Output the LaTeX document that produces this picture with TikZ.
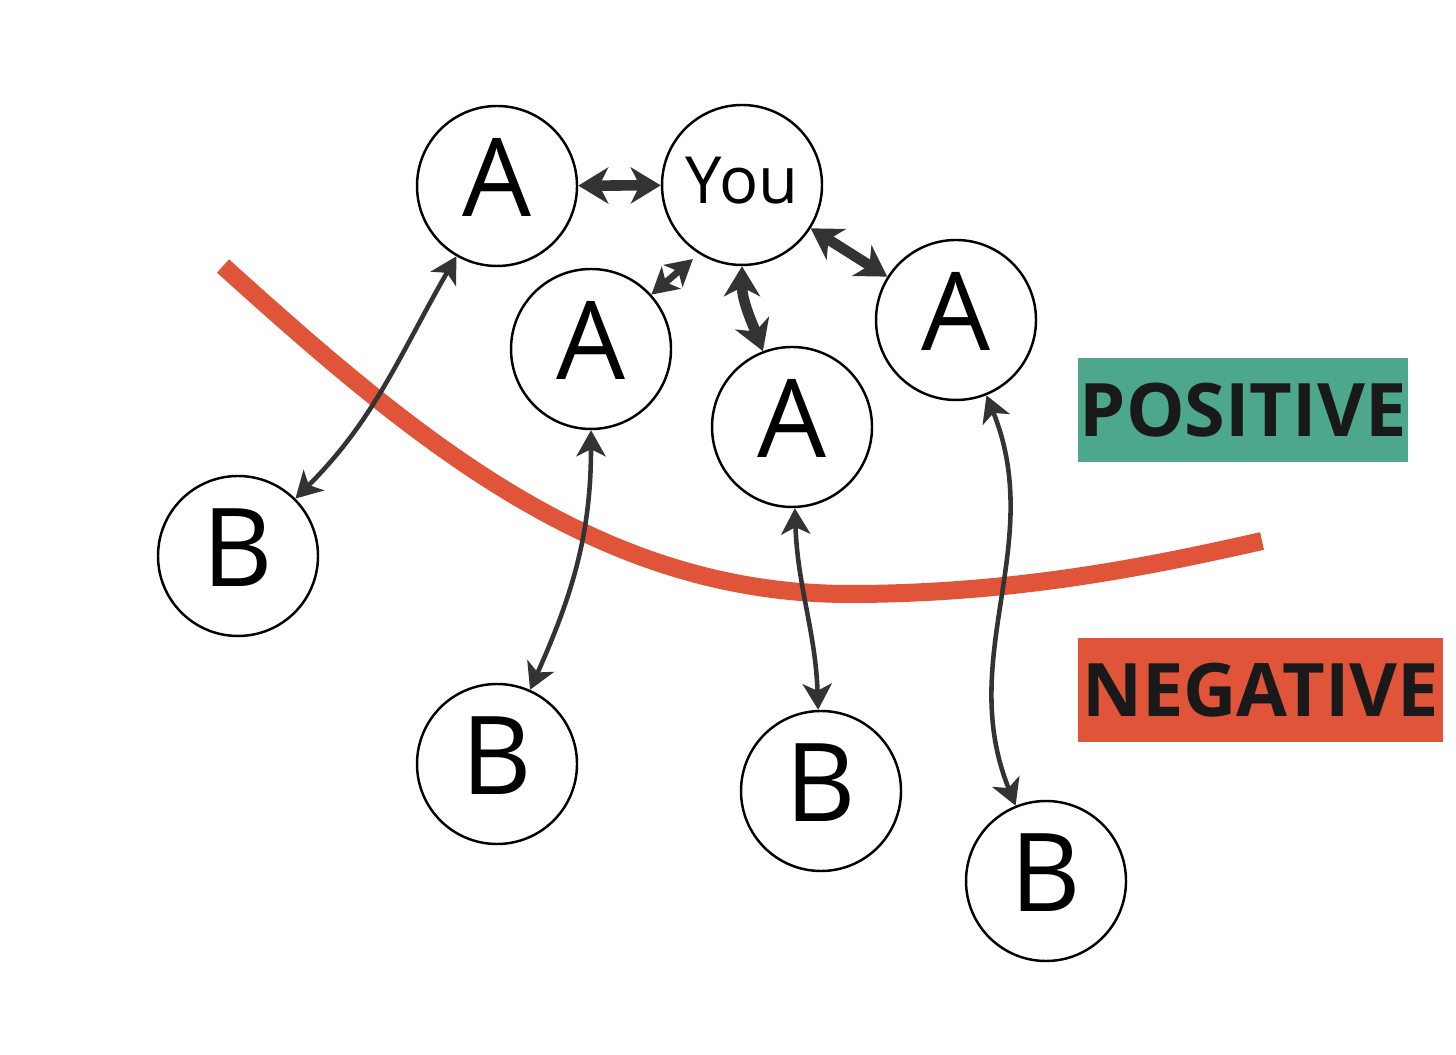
\documentclass[tikz,border=0pt]{standalone}
\usepackage{fontspec}
\setmainfont{Open Sans}
\usetikzlibrary{arrows.meta}

\definecolor{ink}{HTML}{333333}
\definecolor{posgreen}{HTML}{4DA78D}
\definecolor{negred}{HTML}{E0553A}

\tikzset{
  ring/.style={circle, draw=black, line width=0.7pt, fill=white, minimum size=1.6cm,
    inner sep=0pt, text depth=0.17cm, font=\fontsize{31}{31}\selectfont},
  youring/.style={ring, text depth=0.1cm, font=\fontsize{18.5}{18.5}\selectfont},
  tag/.style={minimum height=1.04cm, inner sep=0pt, text depth=0pt, text=black!90,
    font=\bfseries\fontsize{21}{21}\selectfont},
  thinlink/.style={draw=ink, line width=1.3pt,
    {Stealth[length=0.26cm,width=0.29cm,inset=0.07cm]}-{Stealth[length=0.26cm,width=0.29cm,inset=0.07cm]}},
  midlink/.style={draw=ink, line width=1.9pt,
    {Stealth[length=0.26cm,width=0.29cm,inset=0.07cm]}-{Stealth[length=0.26cm,width=0.29cm,inset=0.07cm]}},
  thicklink/.style={draw=ink, line width=3pt,
    {Stealth[length=0.3cm,width=0.36cm,inset=0.09cm]}-{Stealth[length=0.3cm,width=0.36cm,inset=0.09cm]}},
  divide/.style={draw=negred, line width=0.18cm}
}

\begin{document}
\begin{tikzpicture}
  \fill[white] (0,0) rectangle (14.56,10.54);

  % dividing line
  \draw[divide] (2.23,7.88) .. controls (4.2,6.1) and (6.0,4.6) .. (8.5,4.6)
    .. controls (10.2,4.6) and (11.6,4.9) .. (12.62,5.13);

  % people
  \node[youring] (you) at (7.42,8.69) {You};
  \foreach \n/\p in {a1/{(4.97,8.68)}, a2/{(5.91,7.05)}, a3/{(7.92,6.27)}, a4/{(9.56,7.34)}}
    \node[ring] (\n) at \p {A};
  \foreach \n/\p in {b1/{(2.38,4.98)}, b2/{(4.97,2.90)}, b3/{(8.21,2.63)}, b4/{(10.46,1.73)}}
    \node[ring] (\n) at \p {B};

  % ties to you
  \draw[thicklink] (a1) -- (you);
  \draw[thicklink] (you) -- (a4);
  \draw[thicklink] (you) to[out=-90,in=111] (a3);
  \draw[midlink, shorten <=0.08cm] (you.238) -- (a2.42);

  % ties to B
  \draw[thinlink] (a1) to[out=240,in=45] (b1);
  \draw[thinlink] (a2) to[out=-90,in=66] (b2);
  \draw[thinlink] (a3) to[out=-88,in=92] (b3);
  \draw[thinlink] (a4) to[out=-68,in=112] (b4);

  % labels
  \node[tag, fill=posgreen, minimum width=3.3cm] (pos) at (12.43,6.44) {POSITIVE};
  \node[tag, fill=negred, minimum width=3.65cm] (neg) at (12.605,3.64) {NEGATIVE};
\end{tikzpicture}
\end{document}
